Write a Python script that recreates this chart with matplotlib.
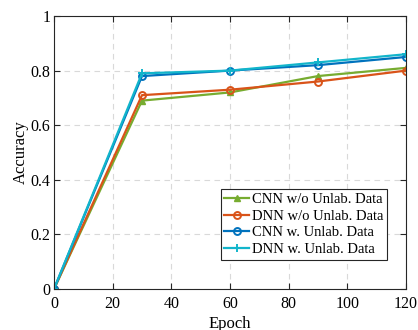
import matplotlib
matplotlib.use("Agg")
import matplotlib.pyplot as plt

epochs = [0, 30, 60, 90, 120]
cnn_wo = [0, 0.69, 0.72, 0.78, 0.81]
dnn_wo = [0, 0.71, 0.73, 0.76, 0.80]
cnn_w = [0, 0.78, 0.80, 0.82, 0.85]
dnn_w = [0, 0.79, 0.80, 0.83, 0.86]
labels = ["CNN w/o Unlab. Data", "DNN w/o Unlab. Data",
          "CNN w. Unlab. Data", "DNN w. Unlab. Data"]

plt.rcParams['font.family'] = ['Liberation Serif', 'DejaVu Serif']

fig = plt.figure(figsize=(4.18, 3.30), dpi=100)
ax = fig.add_axes([54/418, 1 - 289/330, (406 - 54)/418, (289 - 16)/330])

ax.plot(epochs, cnn_wo, color='#77AC30', marker='^', ms=5, lw=1.6, label=labels[0])
ax.plot(epochs, dnn_wo, color='#D95319', marker='o', ms=5, mfc='none', mew=1.4, lw=1.6, label=labels[1])
ax.plot(epochs, cnn_w, color='#0072BD', marker='o', ms=5, mfc='none', mew=1.4, lw=1.6, label=labels[2])
ax.plot(epochs, dnn_w, color='#12B5CB', marker='+', ms=6, mew=1.4, lw=1.6, label=labels[3])

ax.set_xlim(0, 120)
ax.set_ylim(0, 1)
ax.set_xticks([0, 20, 40, 60, 80, 100, 120])
ax.set_yticks([0, 0.2, 0.4, 0.6, 0.8, 1])
ax.set_yticklabels(['0', '0.2', '0.4', '0.6', '0.8', '1'])
ax.grid(True, ls=(0, (5, 4)), color='#d9d9d9', lw=0.8)
ax.tick_params(direction='in', length=4, labelsize=11.5, top=True, right=True, color='#262626')
ax.tick_params(axis='x', pad=5)
ax.tick_params(axis='y', pad=2.5)
for s in ax.spines.values():
    s.set_color('#262626')
    s.set_linewidth(0.8)
ax.set_xlabel('Epoch', fontsize=12, labelpad=3)
ax.set_ylabel('Accuracy', fontsize=12, labelpad=1)

leg = ax.legend(loc='lower right', bbox_to_anchor=(387/418, 1 - 260/330), bbox_transform=fig.transFigure,
                fontsize=10.5, fancybox=False, framealpha=1, edgecolor='#262626',
                borderpad=0.25, labelspacing=0.25, handlelength=1.7, handletextpad=0.2, borderaxespad=0)
leg.get_frame().set_linewidth(0.8)

fig.savefig('out.png', dpi=100)
